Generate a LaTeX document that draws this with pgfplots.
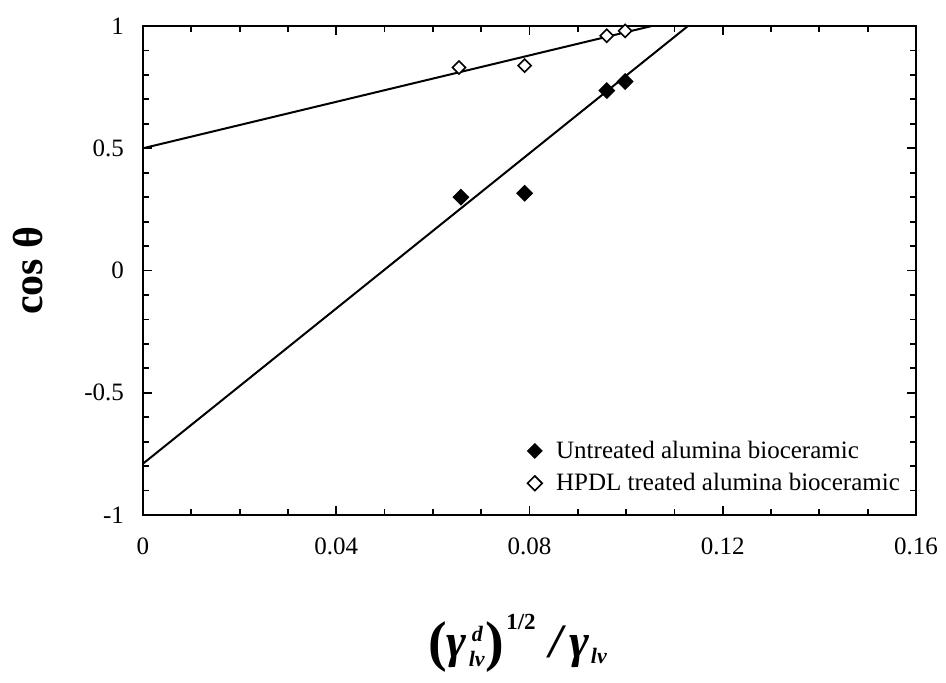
\documentclass[border=0pt]{standalone}
\usepackage{pgfplots}
\pgfplotsset{compat=1.18}
\usepackage{fontspec}
\setmainfont{Liberation Serif}

\begin{document}
\begin{tikzpicture}
\begin{axis}[
  scale only axis,
  width=386.5pt, height=244.5pt,
  xmin=0, xmax=0.16, ymin=-1, ymax=1,
  xtick={0,0.04,0.08,0.12,0.16},
  xticklabels={0,0.04,0.08,0.12,0.16},
  ytick={-1,-0.5,0,0.5,1},
  yticklabels={-1,-0.5,0,0.5,1},
  scaled x ticks=false,
  minor x tick num=3,
  minor y tick num=4,
  tick align=inside,
  major tick length=4.5pt,
  minor tick length=3pt,
  every tick/.style={black, line width=0.9pt},
  axis line style={line width=1.3pt},
  tick label style={font=\fontsize{12.5}{15}\selectfont},
  xticklabel style={yshift=-8pt},
  yticklabel style={xshift=-6pt},
  xlabel={\fontsize{24}{28}\selectfont\bfseries\itshape
    \raisebox{-1.5pt}{\fontsize{28}{30}\selectfont\upshape(}%
    γ\kern1pt\rlap{\raisebox{8pt}{\fontsize{11}{13}\selectfont\kern1.5pt d}}%
    \raisebox{-4.5pt}{\fontsize{11}{13}\selectfont lv}\kern0.5pt%
    \raisebox{-1.5pt}{\fontsize{28}{30}\selectfont\upshape)}%
    \kern1pt\raisebox{14pt}{\fontsize{11.5}{13}\selectfont\upshape 1/2}\hspace{7pt}/\hspace{3pt}γ%
    \kern1pt\raisebox{-3pt}{\fontsize{11}{13}\selectfont lv}},
  xlabel style={at={(axis description cs:0.4845,-0.2904)}, anchor=base},
  ylabel={\fontsize{21}{25}\selectfont\bfseries cos θ},
  ylabel style={at={(axis description cs:-0.149,0.5)}, anchor=center},
  legend style={at={(axis cs:0.0795,-0.93)}, anchor=south west, draw=none, fill=none,
    font=\fontsize{12.5}{15}\selectfont, row sep=2pt, column sep=5pt, inner sep=0pt,
    cells={anchor=west}},
  legend image code/.code={\draw[#1, mark size=2.6pt] plot coordinates {(4pt,0pt)};},
]
% regression lines
\addplot[black, line width=1pt, forget plot] coordinates {(0,-0.79) (0.1128,1)};
\addplot[black, line width=1pt, forget plot] coordinates {(0,0.5) (0.1053,1)};
% data
\addplot[only marks, mark=square*, mark size=2.8pt, mark options={rotate=45, fill=black, draw=black}]
  coordinates {(0.0658,0.30) (0.0790,0.316) (0.0960,0.736) (0.0998,0.773)};
\addlegendentry{Untreated alumina bioceramic}
\addplot[only marks, mark=square*, mark size=2.3pt, mark options={rotate=45, fill=white, draw=black, line width=0.8pt}]
  coordinates {(0.0654,0.83) (0.0790,0.838) (0.0960,0.96) (0.0998,0.98)};
\addlegendentry{HPDL treated alumina bioceramic}
\end{axis}
\path (-71.5pt,-83.5pt) rectangle (401.5pt,257.5pt);
\end{tikzpicture}
\end{document}
